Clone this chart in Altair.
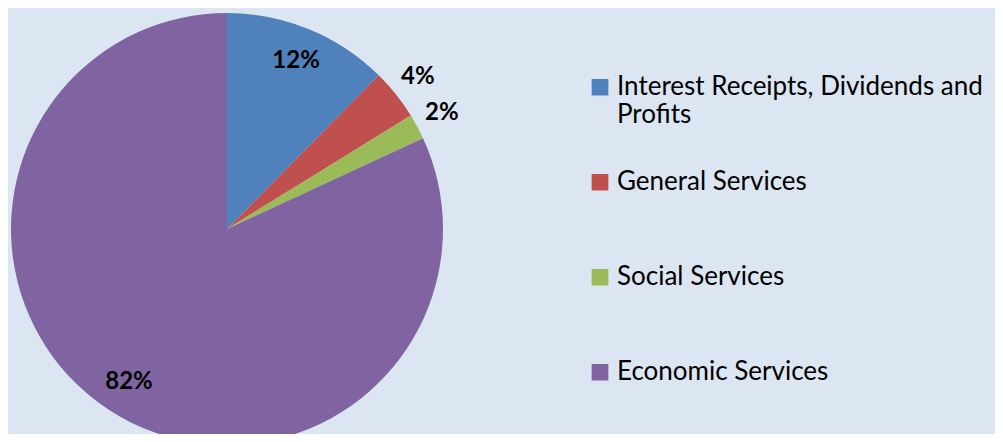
import altair as alt
import pandas as pd

categories = ["Interest Receipts, Dividends and Profits", "General Services",
              "Social Services", "Economic Services"]
shares = [12.4, 3.8, 1.9, 81.9]
colors = ["#4F81BD", "#C0504D", "#9BBB59", "#8064A2"]

df = pd.DataFrame({"category": categories, "share": shares,
                   "order": list(range(len(categories)))})

BG = "#DCE6F2"
FONT = "Lato"
CX, CY, R = 219, 221, 216

arcs = alt.Chart(df).mark_arc(outerRadius=R, stroke=None).encode(
    theta=alt.Theta("share:Q", stack=True),
    order=alt.Order("order:Q", sort="ascending"),
    x=alt.value(CX), y=alt.value(CY),
    color=alt.Color(
        "category:N",
        scale=alt.Scale(domain=categories, range=colors),
        sort=categories,
        legend=alt.Legend(
            title=None, orient="none", legendX=579, legendY=32,
            symbolType="square", symbolSize=280, symbolStrokeWidth=0,
            symbolOpacity=1,
            labelFont=FONT, labelFontSize=26, labelColor="#000000",
            labelOffset=4, labelLimit=500, padding=0,
            clipHeight=94.5, rowPadding=0,
            labelExpr="datum.label == 'Interest Receipts, Dividends and Profits' ? ['Interest Receipts, Dividends and', 'Profits'] : datum.label",
        ),
    ),
)

labels = alt.Chart(df).transform_window(
    cum="sum(share)", sort=[alt.SortField("order", order="ascending")],
    frame=[None, 0],
).transform_joinaggregate(
    total="sum(share)"
).transform_calculate(
    frac="(datum.cum - datum.share / 2) / datum.total",
    lbl="format(datum.share, '.0f') + '%'",
).encode(
    theta=alt.Theta("frac:Q", scale=alt.Scale(domain=[0, 1]), stack=False),
    x=alt.value(CX), y=alt.value(CY), text="lbl:N",
)

inner = labels.transform_filter("datum.share >= 10").mark_text(
    radius=182, font=FONT, fontSize=24, fontWeight="bold", color="#000000"
)

outer = labels.transform_filter("datum.share < 10").mark_text(
    radius=244, font=FONT, fontSize=24, fontWeight="bold", color="#000000"
)

chart = alt.layer(arcs, inner, outer).resolve_scale(
    theta="independent"
).properties(
    width=987, height=426, background=BG,
    autosize=alt.AutoSizeParams(type="none"), padding=0,
).configure_view(stroke=None)

chart.save("out.html", embed_options={"renderer": "svg", "actions": False})
